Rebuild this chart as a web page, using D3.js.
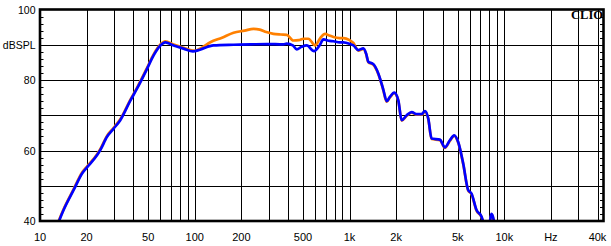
<!DOCTYPE html>
<html><head><meta charset="utf-8">
<script src="https://cdn.jsdelivr.net/npm/d3@7"></script>
<style>html,body{margin:0;padding:0;background:#fff;}svg{display:block;}</style>
</head><body>
<svg id="c" width="611" height="246"></svg>
<script>
// ---- data ----
const xDomain = [10, 40000];
const yDomain = [40, 100];
const xTickValues = [10, 20, 50, 100, 200, 500, 1000, 2000, 5000, 10000, 20000, 40000];
const xTickLabels = ["10", "20", "50", "100", "200", "500", "1k", "2k", "5k", "10k", "Hz", "40k"];
const yTickValues = [100, 90, 80, 60, 40];
const yTickLabels = ["100", "dBSPL", "80", "60", "40"];

// blue curve
const blueFreq = [13.0, 13.3, 14.2, 16.5, 18.7, 20.3, 23.4, 24.5, 27.1, 29.9, 33, 38.4, 42.4, 49.2, 54.2, 59.9, 64.5, 73, 84.7, 97.3, 108, 132, 178, 228, 292, 374, 393, 430, 456, 490, 529, 590, 640, 678, 742, 787, 862, 913, 1008, 1059, 1140, 1228, 1280, 1322, 1425, 1536, 1652, 1738, 1824, 1946, 2066, 2172, 2340, 2520, 2714, 2925, 3070, 3225, 3388, 3834, 4130, 4448, 4745, 5035, 5424, 5840, 6137, 6615, 7129, 7280, 7700, 8050, 8260, 8540, 8700];
const blueDb = [39.0, 40.1, 43.1, 48.8, 53.5, 55.4, 58.7, 60.1, 63.9, 66.2, 68.6, 74.2, 77.6, 83.2, 87.0, 89.8, 90.7, 89.8, 88.9, 88.1, 88.6, 89.8, 90.0, 90.1, 90.2, 90.1, 90.3, 89.8, 88.7, 89.4, 89.8, 88.2, 89.8, 91.5, 91.1, 91.0, 90.7, 90.7, 90.2, 89.8, 88.5, 89.0, 87.5, 85.2, 84.5, 81.8, 77.3, 74.0, 75.2, 76.4, 74.2, 68.6, 70.0, 70.9, 70.3, 70.3, 71.2, 69.1, 63.4, 63.1, 60.9, 62.9, 64.3, 62.4, 56.3, 48.8, 47.8, 43.1, 41.2, 40.0, 38.0, 39.6, 42.0, 40.3, 38.0];

// orange curve: differs from blue between ~100 Hz and ~1.1 kHz
const orangeMidFreq = [100, 108, 126, 150, 178, 210, 240, 263, 290, 322, 360, 393, 433, 470, 503, 542, 599, 650, 695, 740, 787, 860, 913, 1000, 1059];
const orangeMidDb = [88.3, 88.9, 90.7, 92.0, 93.4, 94.0, 94.5, 94.3, 93.6, 93.1, 92.9, 92.8, 91.2, 91.3, 91.7, 91.7, 89.8, 92.0, 93.1, 92.6, 92.2, 91.9, 91.9, 91.3, 90.5];

// ---- build ----
const svg = d3.select("#c");
const x = d3.scaleLog().domain(xDomain).range([40, 597.5]);
const y = d3.scaleLinear().domain(yDomain).range([221, 9.5]);
const pLeft = x(xDomain[0]), pRight = x(xDomain[1]) + 6;
const pTop = y(yDomain[1]), pBottom = y(yDomain[0]);

// gridlines
const gridF = [];
for (let d = 10; d <= 10000; d *= 10) for (let m = 1; m <= 9; m++) { const f = d * m; if (f > 10 && f <= 40000) gridF.push(f); }
gridF.push(20000, 30000, 40000);
svg.append("g").selectAll("line").data(gridF).join("line")
  .attr("x1", d => Math.round(x(d)) + 0.5).attr("x2", d => Math.round(x(d)) + 0.5)
  .attr("y1", pTop).attr("y2", pBottom).attr("stroke", "#000").attr("stroke-width", 1);
svg.append("g").selectAll("line").data([50, 60, 70, 80, 90]).join("line")
  .attr("x1", pLeft).attr("x2", pRight)
  .attr("y1", d => Math.round(y(d)) + 0.5).attr("y2", d => Math.round(y(d)) + 0.5)
  .attr("stroke", "#000").attr("stroke-width", 1);

// minor ticks every 2 dB
const minor = d3.range(42, 100, 2).filter(v => v % 10 !== 0);
svg.append("g").selectAll("line").data(minor).join("line")
  .attr("x1", pLeft).attr("x2", pLeft + 3.5)
  .attr("y1", d => Math.round(y(d)) + 0.5).attr("y2", d => Math.round(y(d)) + 0.5)
  .attr("stroke", "#000");
svg.append("g").selectAll("line").data(minor).join("line")
  .attr("x1", pRight - 3.5).attr("x2", pRight)
  .attr("y1", d => Math.round(y(d)) + 0.5).attr("y2", d => Math.round(y(d)) + 0.5)
  .attr("stroke", "#000");

// curves
svg.append("clipPath").attr("id", "pc").append("rect")
  .attr("x", pLeft).attr("y", pTop).attr("width", pRight - pLeft).attr("height", pBottom - pTop);
const lo = orangeMidFreq[0], hi = orangeMidFreq[orangeMidFreq.length - 1];
const bluePts = blueFreq.map((f, i) => [f, blueDb[i]]);
const orangePts = bluePts.filter(p => p[0] < lo).map(p => [p[0], p[1] + 0.25])
  .concat(orangeMidFreq.map((f, i) => [f, orangeMidDb[i]]))
  .concat(bluePts.filter(p => p[0] > hi).map(p => [p[0], p[1] - 0.15]));
const line = d3.line().x(d => x(d[0])).y(d => y(d[1])).curve(d3.curveMonotoneX);
const g = svg.append("g").attr("clip-path", "url(#pc)");
g.append("path").attr("d", line(orangePts)).attr("fill", "none").attr("stroke", "#ff8000")
  .attr("stroke-width", 2.7).attr("stroke-linejoin", "round");
g.append("path").attr("d", line(bluePts)).attr("fill", "none").attr("stroke", "#0000ff")
  .attr("stroke-width", 2.7).attr("stroke-linejoin", "round");

// frame
svg.append("rect").attr("x", pLeft).attr("y", pTop).attr("width", pRight - pLeft).attr("height", pBottom - pTop)
  .attr("fill", "none").attr("stroke", "#000").attr("stroke-width", 2.6);

// labels
const fontFam = "'Liberation Sans', Arial, sans-serif";
svg.append("g").selectAll("text").data(xTickValues).join("text")
  .attr("x", d => x(d)).attr("y", 240.5).attr("text-anchor", "middle")
  .attr("font-family", fontFam).attr("font-size", 11).attr("fill", "#000")
  .text((d, i) => xTickLabels[i]);
svg.append("g").selectAll("text").data(yTickValues).join("text")
  .attr("x", 35.5).attr("y", d => y(d) + 4).attr("text-anchor", "end")
  .attr("font-family", fontFam).attr("font-size", 10.5).attr("fill", "#000")
  .text((d, i) => yTickLabels[i]);
svg.append("text").attr("x", pRight - 0.5).attr("y", 19.3).attr("text-anchor", "end")
  .attr("font-family", "'Liberation Serif', 'Times New Roman', serif").attr("font-weight", "bold")
  .attr("font-size", 12.5).attr("fill", "#000").text("CLIO");
</script>
</body></html>
